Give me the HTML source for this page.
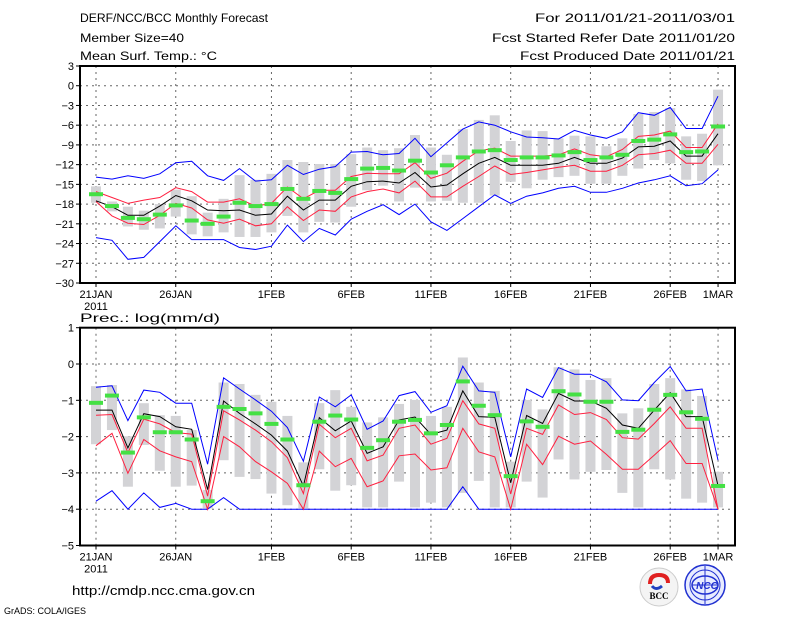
<!DOCTYPE html>
<html><head><meta charset="utf-8"><style>
body{margin:0;background:#fff;}
svg{display:block;font-family:"Liberation Sans",sans-serif;}
text{font-size:12px;fill:#000;}
</style></head><body>
<svg id="chart" width="800" height="618" viewBox="0 0 800 618">
<g>
<text x="80" y="22" style="font-size:12px" textLength="188" lengthAdjust="spacingAndGlyphs">DERF/NCC/BCC Monthly Forecast</text>
<text x="80" y="42" style="font-size:12px" textLength="104" lengthAdjust="spacingAndGlyphs">Member Size=40</text>
<text x="80" y="60" style="font-size:12px" textLength="137" lengthAdjust="spacingAndGlyphs">Mean Surf. Temp.: °C</text>
<text x="735" y="22" text-anchor="end" style="font-size:12px" textLength="200" lengthAdjust="spacingAndGlyphs">For 2011/01/21-2011/03/01</text>
<text x="735" y="42" text-anchor="end" style="font-size:12px" textLength="243" lengthAdjust="spacingAndGlyphs">Fcst Started Refer Date 2011/01/20</text>
<text x="735" y="60" text-anchor="end" style="font-size:12px" textLength="215" lengthAdjust="spacingAndGlyphs">Fcst Produced Date 2011/01/21</text>
<text x="80" y="322" style="font-size:12px" textLength="140" lengthAdjust="spacingAndGlyphs">Prec.: log(mm/d)</text>
</g>
<g id="top"></g>
<g id="bot"></g>
<g>
<text x="72" y="595" style="font-size:13px" textLength="183" lengthAdjust="spacingAndGlyphs">http://cmdp.ncc.cma.gov.cn</text>
<text x="4" y="614" style="font-size:9px" textLength="82" lengthAdjust="spacingAndGlyphs">GrADS: COLA/IGES</text>
<g>
<circle cx="659" cy="587" r="19" fill="#f4f4f4" stroke="#ccc"/>
<path d="M650 584 q0 -9 9 -9 q9 0 9 8" fill="none" stroke="#e02020" stroke-width="4"/>
<path d="M652 586 q4 5 10 0" fill="none" stroke="#2040c0" stroke-width="3"/>
<text x="659" y="599" text-anchor="middle" style="font-size:9px;font-weight:bold;font-family:'Liberation Serif',serif">BCC</text>
</g>
<g>
<circle cx="705" cy="585" r="20" fill="#e8ecff" stroke="#2030d0" stroke-width="1.5"/>
<circle cx="705" cy="585" r="15" fill="none" stroke="#2030d0" stroke-width="1"/>
<ellipse cx="705" cy="585" rx="13" ry="9" fill="none" stroke="#2030d0" stroke-width="1.5"/>
<line x1="692" y1="585" x2="718" y2="585" stroke="#2030d0"/>
<line x1="705" y1="566" x2="705" y2="604" stroke="#2030d0"/>
<text x="707" y="589" text-anchor="middle" style="font-size:10px;font-weight:bold;fill:#2030d0;font-style:italic">NCC</text>
</g>
</g>
</svg>
<script>
// ===== data =====
const dateTickDays = [0,5,11,16,21,26,31,36,39];
const dateTickLabels = ["21JAN","26JAN","1FEB","6FEB","11FEB","16FEB","21FEB","26FEB","1MAR"];
const tempTicks = [3,0,-3,-6,-9,-12,-15,-18,-21,-24,-27,-30];
const precTicks = [1,0,-1,-2,-3,-4,-5];

const tBlueHi = [-13.9,-14.2,-13.7,-14.1,-13.4,-11.7,-11.5,-13.7,-14.4,-12.6,-14.5,-14.3,-12.1,-13.5,-12.7,-12.3,-10.1,-10.0,-10.5,-10.3,-8.0,-10.8,-8.7,-6.6,-5.5,-6.0,-7.0,-7.8,-7.9,-8.1,-6.8,-7.5,-8.0,-7.0,-4.1,-4.5,-3.3,-6.5,-6.5,-1.6];
const tRedHi = [-16.1,-17.0,-17.9,-17.4,-17.0,-15.5,-16.1,-17.7,-17.7,-17.2,-18.3,-17.9,-15.4,-17.2,-15.9,-15.9,-13.8,-13.3,-13.4,-13.4,-11.7,-14.1,-13.3,-11.5,-9.9,-9.5,-10.7,-10.7,-10.7,-10.5,-9.6,-10.5,-10.8,-9.7,-7.7,-7.5,-6.9,-9.4,-9.4,-5.8];
const tMean = [-17.5,-18.4,-19.7,-19.7,-18.3,-16.7,-17.5,-18.9,-19.0,-18.9,-19.7,-19.5,-16.8,-18.9,-17.4,-17.4,-15.3,-14.6,-14.5,-14.8,-13.2,-15.4,-15.1,-13.4,-11.8,-10.9,-12.1,-12.1,-12.1,-11.8,-10.9,-11.8,-11.8,-11.0,-9.3,-9.2,-8.4,-10.7,-10.7,-7.3];
const tRedLo = [-17.6,-19.8,-20.9,-21.1,-19.7,-17.9,-18.6,-20.4,-20.9,-20.3,-21.3,-21.0,-18.4,-20.5,-18.9,-19.1,-16.9,-16.1,-15.7,-16.3,-14.5,-16.9,-16.9,-15.3,-13.8,-12.2,-13.5,-13.2,-12.8,-12.4,-12.1,-13.0,-13.0,-12.1,-10.5,-10.3,-9.8,-11.8,-11.8,-8.9];
const tBlueLo = [-23.1,-23.5,-26.4,-26.1,-23.7,-21.3,-23.4,-23.4,-23.4,-24.6,-24.9,-24.4,-21.2,-23.7,-21.7,-22.7,-20.3,-19.1,-18.1,-19.6,-18.0,-20.7,-22.0,-20.2,-18.4,-16.6,-17.9,-16.8,-16.3,-15.6,-15.3,-16.2,-16.2,-15.6,-14.8,-14.3,-13.7,-15.2,-14.9,-12.8];
const tObs = [-16.5,-18.3,-20.1,-20.3,-19.6,-18.2,-20.5,-21.0,-19.9,-17.8,-18.3,-18.0,-15.7,-17.2,-16.0,-16.3,-14.2,-12.6,-12.5,-12.9,-11.4,-13.2,-12.1,-10.9,-10.0,-9.8,-11.3,-10.9,-10.9,-10.6,-10.1,-11.3,-10.9,-10.5,-8.4,-8.2,-7.4,-10.1,-10.0,-6.2];
const tBarHi = [-15.3,-17.6,-18.4,-19.0,-18.0,-15.8,-16.8,-19.3,-17.2,-13.6,-14.3,-13.4,-11.3,-11.6,-11.9,-11.9,-10.4,-9.4,-9.8,-9.5,-7.5,-9.4,-10.5,-6.6,-5.2,-4.5,-8.4,-6.8,-6.9,-8.0,-7.6,-7.7,-9.2,-8.0,-4.3,-4.0,-3.4,-7.7,-7.3,-0.6];
const tBarLo = [-17.8,-19.1,-21.4,-21.9,-21.7,-19.9,-22.6,-22.9,-22.3,-23.0,-23.0,-22.3,-19.8,-22.3,-20.7,-20.8,-18.4,-15.9,-15.2,-17.6,-15.5,-17.6,-17.5,-17.8,-17.8,-16.7,-14.6,-15.6,-14.3,-13.9,-13.7,-14.9,-14.9,-13.7,-12.6,-11.3,-11.8,-14.3,-14.5,-12.1];

const pBlueHi = [-0.64,-0.60,-1.56,-0.72,-0.78,-1.08,-1.08,-2.76,-0.38,-0.69,-0.99,-1.30,-1.75,-2.68,-0.91,-1.18,-0.85,-1.80,-1.57,-0.87,-0.76,-1.33,-1.15,-0.06,-0.74,-0.78,-2.56,-0.69,-0.92,-0.10,-0.28,-0.28,-0.49,-0.99,-1.01,-0.51,-0.07,-0.74,-0.69,-2.65];
const pRedHi = [-1.41,-1.39,-2.44,-1.52,-1.65,-1.89,-1.93,-3.64,-1.29,-1.54,-1.82,-2.14,-2.58,-3.57,-1.66,-2.03,-1.77,-2.67,-2.51,-1.77,-1.68,-2.21,-2.05,-1.01,-1.65,-1.77,-3.58,-1.77,-1.94,-1.13,-1.39,-1.34,-1.53,-2.03,-2.07,-1.64,-1.18,-1.77,-1.77,-4.0];
const pMean = [-1.27,-1.27,-2.31,-1.37,-1.45,-1.73,-1.80,-3.46,-1.02,-1.36,-1.65,-1.96,-2.40,-3.36,-1.48,-1.84,-1.57,-2.46,-2.28,-1.54,-1.46,-1.94,-1.82,-0.74,-1.45,-1.47,-3.27,-1.42,-1.64,-0.81,-1.02,-1.02,-1.22,-1.68,-1.77,-1.27,-0.79,-1.45,-1.45,-3.35];
const pRedLo = [-2.25,-1.91,-3.01,-2.08,-2.39,-2.56,-2.69,-4.0,-2.00,-2.28,-2.69,-2.97,-3.29,-4.0,-2.40,-2.83,-2.60,-3.38,-3.22,-2.53,-2.48,-2.92,-2.86,-1.77,-2.42,-2.56,-4.0,-2.21,-2.77,-1.99,-2.21,-2.12,-2.49,-2.90,-2.90,-2.51,-2.11,-2.74,-2.74,-4.0];
const pBlueLo = [-3.78,-3.49,-4.0,-3.55,-3.95,-3.84,-4.0,-4.0,-3.68,-4.0,-4.0,-4.0,-4.0,-4.0,-4.0,-4.0,-4.0,-4.0,-4.0,-4.0,-4.0,-4.0,-4.0,-3.38,-4.0,-4.0,-4.0,-4.0,-4.0,-4.0,-4.0,-4.0,-4.0,-4.0,-4.0,-4.0,-4.0,-4.0,-4.0,-4.0];
const pObs = [-1.07,-0.87,-2.44,-1.47,-1.88,-1.88,-2.08,-3.78,-1.18,-1.24,-1.36,-1.65,-2.08,-3.34,-1.59,-1.42,-1.53,-2.31,-2.10,-1.59,-1.54,-1.91,-1.68,-0.48,-1.15,-1.41,-3.09,-1.58,-1.73,-0.75,-0.84,-1.04,-1.04,-1.87,-1.81,-1.26,-0.85,-1.33,-1.51,-3.36];
const pBarHi = [-0.61,-0.58,-1.99,-1.08,-1.41,-1.43,-1.82,-3.47,-0.51,-0.55,-0.85,-1.04,-1.43,-2.71,-1.08,-0.72,-1.18,-1.61,-1.47,-1.10,-0.99,-1.43,-1.18,0.18,-0.51,-0.74,-2.69,-0.99,-1.25,-0.09,-0.15,-0.44,-0.39,-1.36,-1.22,-0.55,-0.39,-0.70,-0.88,-2.97];
const pBarLo = [-2.21,-1.82,-3.38,-2.23,-2.94,-3.38,-3.35,-3.98,-2.65,-3.11,-3.17,-3.57,-3.89,-3.98,-2.90,-3.49,-3.34,-3.95,-3.95,-3.24,-3.95,-3.82,-3.95,-3.55,-3.22,-3.95,-3.95,-3.24,-3.68,-2.63,-3.18,-2.97,-2.92,-3.55,-3.95,-2.90,-3.18,-3.71,-3.82,-3.95];

// ===== drawing =====
const NS = "http://www.w3.org/2000/svg";
const X0 = 80, X1 = 735;
function xDay(d){ return 96 + d*15.95; }
function mk(parent, tag, attrs){
  const e = document.createElementNS(NS, tag);
  for (const k in attrs) e.setAttribute(k, attrs[k]);
  parent.appendChild(e);
  return e;
}
function panel(g, top, bot, vmax, vmin, ticks, s){
  const y = v => top + (vmax - v) / (vmax - vmin) * (bot - top);
  ticks.forEach(t => {
    if (t === vmax || t === vmin) return;
    const l = mk(g, "line", {x1:X0, x2:X1, y1:y(t), y2:y(t), stroke:"#666", "stroke-dasharray":"2,4", "stroke-width":1});
    
    
  });
  dateTickDays.forEach(d => {
    const l = mk(g, "line", {x1:xDay(d), x2:xDay(d), y1:top, y2:bot, stroke:"#666", "stroke-dasharray":"2,4", "stroke-width":1});
    
    
  });
  s.barHi.forEach((hi, i) => {
    const lo = s.barLo[i];
    const r = mk(g, "rect", {x:xDay(i)-5, y:y(hi), width:10, height:Math.max(1, y(lo)-y(hi)), fill:"#d3d3d6"});
    
    
  });
  const line = (arr, col, name) => {
    const p = mk(g, "polyline", {points: arr.map((v,i)=>xDay(i).toFixed(1)+","+y(v).toFixed(1)).join(" "), fill:"none", stroke:col, "stroke-width":1});
    
    
  };
  line(s.blueHi, "#0000ff", "max-line");
  line(s.blueLo, "#0000ff", "min-line");
  line(s.redHi, "#ff2040", "upper-spread-line");
  line(s.redLo, "#ff2040", "lower-spread-line");
  line(s.mean, "#000", "ensemble-mean-line");
  s.obs.forEach((v, i) => {
    const r = mk(g, "rect", {x:xDay(i)-7, y:y(v)-2, width:14, height:4, fill:"#44e044"});
    
    
  });
  const f = mk(g, "rect", {x:X0, y:top, width:X1-X0, height:bot-top, fill:"none", stroke:"#000", "stroke-width":2});
  
  
  ticks.forEach(t => {
    mk(g, "line", {x1:X0-4, x2:X0, y1:y(t), y2:y(t), stroke:"#000"});
    const tx = mk(g, "text", {x:X0-6, y:y(t)+4, "text-anchor":"end", style:"font-size:11px"});
    tx.textContent = t === 0 ? "0" : (t > 0 ? String(t) : "\u2212" + Math.abs(t));
    
    
  });
  dateTickDays.forEach((d, k) => {
    mk(g, "line", {x1:xDay(d), x2:xDay(d), y1:bot, y2:bot+4, stroke:"#000"});
    const tx = mk(g, "text", {x:xDay(d), y:bot+15, "text-anchor":"middle", style:"font-size:11px"});
    tx.textContent = dateTickLabels[k];
    
    
  });
  const yr = mk(g, "text", {x:xDay(0), y:bot+27, "text-anchor":"middle", style:"font-size:11px"});
  yr.textContent = "2011";
  
  
}
panel(document.getElementById("top"), 66, 283, 3, -30, tempTicks,
  {blueHi:tBlueHi, redHi:tRedHi, mean:tMean, redLo:tRedLo, blueLo:tBlueLo, obs:tObs, barHi:tBarHi, barLo:tBarLo});
panel(document.getElementById("bot"), 327.7, 545.5, 1, -5, precTicks,
  {blueHi:pBlueHi, redHi:pRedHi, mean:pMean, redLo:pRedLo, blueLo:pBlueLo, obs:pObs, barHi:pBarHi, barLo:pBarLo});
</script>
</body></html>
